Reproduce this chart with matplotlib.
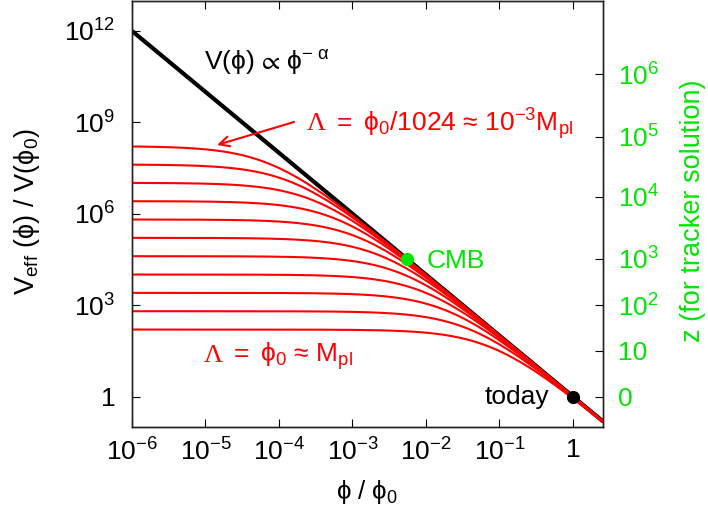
import numpy as np
import matplotlib
matplotlib.use('Agg')
import matplotlib.pyplot as plt
from matplotlib.ticker import NullLocator, FixedLocator

plt.rcParams['font.family'] = ['Liberation Sans', 'DejaVu Sans']
plt.rcParams['mathtext.fontset'] = 'custom'
plt.rcParams['mathtext.rm'] = 'Liberation Sans'
plt.rcParams['mathtext.it'] = 'Liberation Sans'
plt.rcParams['mathtext.sf'] = 'Liberation Sans'
plt.rcParams['mathtext.fallback'] = 'stixsans'

# ---- data ----
ALPHA = 2.0                                   # V(phi) ∝ phi^-alpha
LAMBDA = [1 / 2**k for k in range(11)]        # Λ/φ0 = 1, 1/2, ..., 1/1024
PLATEAU_AT_LAMBDA1 = 158.0                    # V_eff(φ→0)/V(φ0) for Λ = φ0
PHI_RANGE = (1e-6, 2.56)
V_RANGE = (0.1, 1e13)
X_TICKS = [1e-6, 1e-5, 1e-4, 1e-3, 1e-2, 1e-1, 1]
X_TICKLABELS = [r'$\mathrm{10^{-6}}$', r'$\mathrm{10^{-5}}$', r'$\mathrm{10^{-4}}$',
                r'$\mathrm{10^{-3}}$', r'$\mathrm{10^{-2}}$', r'$\mathrm{10^{-1}}$', '1']
Y_TICKS = [1, 1e3, 1e6, 1e9, 1e12]
Y_TICKLABELS = ['1', r'$\mathrm{10^{3}}$', r'$\mathrm{10^{6}}$', r'$\mathrm{10^{9}}$',
                r'$\mathrm{10^{12}}$']
Z_LABELS = ['0', '10', r'$\mathrm{10^{2}}$', r'$\mathrm{10^{3}}$', r'$\mathrm{10^{4}}$',
            r'$\mathrm{10^{5}}$', r'$\mathrm{10^{6}}$']
Z_POS_LOG10V = [0.0, 1.50, 2.99, 4.52, 6.55, 8.52, 10.58]
PHI_CMB = 0.0055
PHI_TODAY = 1.0

RED = '#ff0000'
GREEN = '#00e600'
FS = 19

fig = plt.figure(figsize=(7.08, 5.16), dpi=100)
ax = fig.add_axes([132 / 708, 1 - 427 / 516, (603 - 132) / 708, (427 - 0.5) / 516])

phi = np.logspace(np.log10(PHI_RANGE[0]), np.log10(PHI_RANGE[1]), 600)
ax.plot(phi, phi ** (-ALPHA), color='black', lw=3.0, solid_capstyle='butt', zorder=2)
a = 1.0 / np.sqrt(PLATEAU_AT_LAMBDA1)
for L in LAMBDA:
    ax.plot(phi, (phi + a * L) ** (-ALPHA), color=RED, lw=1.5, zorder=3)

ax.plot([PHI_CMB], [PHI_CMB ** (-ALPHA)], 'o', color=GREEN, ms=9.5, mec='none', zorder=5)
ax.plot([PHI_TODAY], [PHI_TODAY ** (-ALPHA)], 'o', color='black', ms=9.5, mec='none', zorder=5)

ax.set_xscale('log')
ax.set_yscale('log')
ax.set_xlim(*PHI_RANGE)
ax.set_ylim(*V_RANGE)
ax.xaxis.set_major_locator(FixedLocator(X_TICKS))
ax.xaxis.set_minor_locator(NullLocator())
ax.yaxis.set_major_locator(FixedLocator(Y_TICKS))
ax.yaxis.set_minor_locator(NullLocator())
ax.set_xticklabels(X_TICKLABELS)
ax.set_yticklabels(Y_TICKLABELS)
ax.tick_params(axis='both', which='major', direction='in', length=6, width=0.8,
               labelsize=FS, top=True, right=False)
ax.tick_params(axis='x', pad=8)
ax.tick_params(axis='y', pad=12)
for s in ax.spines.values():
    s.set_linewidth(1.0)
    s.set_color('#222222')

ax2 = ax.twinx()
ax2.set_yscale('log')
ax2.set_ylim(*V_RANGE)
ax2.yaxis.set_major_locator(FixedLocator([10 ** v for v in Z_POS_LOG10V]))
ax2.yaxis.set_minor_locator(NullLocator())
ax2.set_yticklabels(Z_LABELS)
ax2.tick_params(axis='y', which='major', direction='in', length=6, width=0.8,
                labelsize=FS, labelcolor=GREEN, pad=11)
for s in ax2.spines.values():
    s.set_linewidth(1.0)
    s.set_color('#222222')

fig.text(27 / 708, 1 - 212 / 516, r'$\mathrm{V_{eff}\ (ϕ)\ /\ V(ϕ_0)}$', rotation=90,
         ha='center', va='center', fontsize=19.5)
fig.text(367 / 708, 1 - 492 / 516, r'$\mathrm{ϕ\ /\ ϕ_0}$', ha='center', va='center', fontsize=18.5)
fig.text(693 / 708, 1 - 211 / 516, 'z (for tracker solution)', rotation=90,
         ha='center', va='center', fontsize=19.5, color=GREEN)

# annotations (figure-pixel placement)
def fx(x):
    return x / 708
def fy(y):
    return 1 - y / 516

fig.text(fx(204), fy(62), r'$\mathrm{V(ϕ)\ ∝\ ϕ^{-\ α}}$', ha='left', va='center', fontsize=FS)
fig.text(fx(307), fy(124), 'Λ', family='Liberation Serif', ha='left', va='center',
         fontsize=FS, color=RED)
fig.text(fx(332), fy(124), r'$\mathrm{=\ ϕ_0/1024\ ≈\ 10^{-3}M_{pl}}$', ha='left', va='center',
         fontsize=FS, color=RED)
fig.text(fx(204), fy(356), 'Λ', family='Liberation Serif', ha='left', va='center',
         fontsize=FS, color=RED)
fig.text(fx(229), fy(356), r'$\mathrm{=\ ϕ_0\ ≈\ M_{pl}}$', ha='left', va='center',
         fontsize=FS, color=RED)
fig.text(fx(427), fy(261), 'CMB', ha='left', va='center', fontsize=FS, color=GREEN)
fig.text(fx(549), fy(397), 'today', ha='right', va='center', fontsize=FS, color='black')
ax.annotate('', xy=(fx(217), fy(145)), xycoords='figure fraction',
            xytext=(fx(294), fy(122)), textcoords='figure fraction',
            arrowprops=dict(arrowstyle='->', color=RED, lw=1.5, mutation_scale=18,
                            shrinkA=0, shrinkB=0))

fig.savefig('out.png', dpi=100)
